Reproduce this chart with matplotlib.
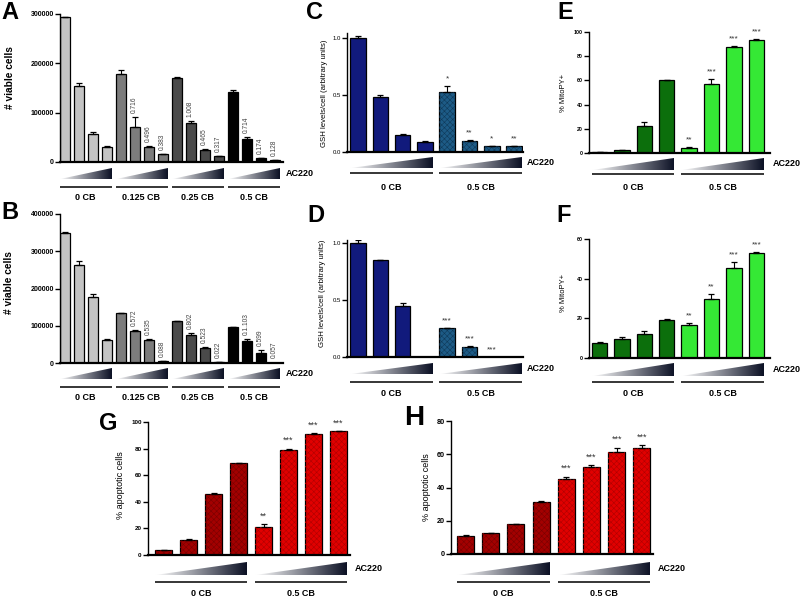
import numpy as np
import matplotlib
matplotlib.use("Agg")
import matplotlib.pyplot as plt
from matplotlib.colors import LinearSegmentedColormap
from matplotlib.patches import Polygon
from matplotlib.transforms import blended_transform_factory

plt.rcParams["font.family"] = ["Liberation Sans", "DejaVu Sans"]
plt.rcParams["hatch.linewidth"] = 0.4

# --------------------
# Data
# --------------------
groups_cb4 = ["0 CB", "0.125 CB", "0.25 CB", "0.5 CB"]
groups_cb2 = ["0 CB", "0.5 CB"]

# A: viable cells
a_vals = [293000, 155000, 57000, 31000, 178000, 71000, 30000, 16000,
          171000, 80000, 25000, 12000, 142000, 47000, 8000, 4000]
a_err = [1500, 6000, 3500, 1000, 8000, 20000, 1500, 800,
         1500, 3000, 1000, 800, 3500, 4000, 500, 400]
a_notes = ["", "", "", "", "", "0.716", "0.496", "0.383",
           "", "1.008", "0.465", "0.317", "", "0.714", "0.174", "0.128"]

# B: viable cells
b_vals = [348000, 263000, 176000, 62000, 133000, 86000, 61000, 5000,
          112000, 76000, 40000, 1500, 96000, 60000, 28000, 1000]
b_err = [3000, 10000, 10000, 2000, 2000, 3000, 3000, 500,
         1500, 4000, 3000, 300, 1000, 3500, 6000, 300]
b_notes = ["", "", "", "", "", "0.572", "0.535", "0.088",
           "", "0.802", "0.523", "0.022", "", "0.1.103", "0.599", "0.057"]

# C / D: GSH levels
c_vals = [1.0, 0.48, 0.15, 0.09, 0.53, 0.10, 0.05, 0.05]
c_err = [0.02, 0.02, 0.01, 0.003, 0.05, 0.008, 0.003, 0.003]
c_stars = ["", "", "", "", "*", "**", "*", "**"]

d_vals = [1.0, 0.85, 0.45, 0.0, 0.25, 0.09, 0.0, 0.0]
d_err = [0.025, 0.003, 0.02, 0.0, 0.005, 0.01, 0.0, 0.0]
d_stars = ["", "", "", "", "***", "***", "***", ""]

# E / F: % MitoPY+
e_vals = [1.0, 2.5, 22.0, 60.0, 4.5, 57.0, 88.0, 93.0]
e_err = [0.2, 0.3, 4.0, 0.5, 0.3, 4.0, 0.5, 1.0]
e_stars = ["", "", "", "", "**", "***", "***", "***"]

f_vals = [7.5, 9.5, 12.0, 19.0, 16.5, 30.0, 45.5, 53.0]
f_err = [0.5, 1.0, 1.5, 0.5, 1.0, 2.5, 3.0, 0.3]
f_stars = ["", "", "", "", "**", "**", "***", "***"]

# G / H: % apoptotic cells
g_vals = [3.5, 11.5, 46.0, 69.0, 21.0, 79.0, 91.0, 93.0]
g_err = [0.2, 0.6, 0.8, 0.3, 2.0, 1.0, 0.5, 0.3]
g_stars = ["", "", "", "", "**", "***", "***", "***"]

h_vals = [11.0, 12.5, 18.0, 31.0, 45.0, 52.5, 61.5, 63.5]
h_err = [0.3, 0.3, 0.3, 1.0, 1.5, 1.0, 2.5, 2.0]
h_stars = ["", "", "", "", "***", "***", "***", "***"]

# --------------------
# Figure setup (pixel based layout)
# --------------------
W, H = 800, 599
fig = plt.figure(figsize=(8, 5.99), dpi=100)

ramp_cmap = LinearSegmentedColormap.from_list("ramp", ["#ffffff", "#0b1024"])
grad = np.linspace(0, 1, 256).reshape(1, -1)


def px_rect(l, t, r, b):
    return [l / W, 1 - b / H, (r - l) / W, (b - t) / H]


def draw_panel(vals, errs, colors, groups, lay, notes, note_kind,
               hatch_colors=None):
    L, T, R, B = lay["box"]
    ax = fig.add_axes(px_rect(L, T, R, B))
    n = len(vals)
    x = np.arange(n)
    w = lay["bw"] / lay["pitch"]

    ax.bar(x, vals, width=w, color=colors, edgecolor="black",
           linewidth=0.9, zorder=2)
    if hatch_colors is not None:
        over = ax.bar(x, vals, width=w, color="none", linewidth=0, zorder=2.5)
        for p, hc in zip(over, hatch_colors):
            if hc:
                p.set_edgecolor(hc)
                p.set_hatch("xxxxxx")
    ax.errorbar(x, vals, yerr=[np.zeros(n), errs], fmt="none",
                ecolor="black", elinewidth=0.8, capsize=2.2,
                capthick=0.9, zorder=3)

    ax.set_ylim(*lay["ylim"])
    ax.set_yticks(lay["yticks"])
    ax.set_yticklabels(lay["yticklabels"], fontsize=lay["tick_size"],
                       fontweight=lay["tick_weight"])
    ax.set_xticks([])
    for s in ["top", "right"]:
        ax.spines[s].set_visible(False)
    ax.spines["left"].set_linewidth(1.0)
    ax.spines["bottom"].set_linewidth(1.6)
    ax.tick_params(axis="y", direction="out", length=3.5, width=1.0, pad=1)

    ax.set_ylabel(lay["ylabel"], fontsize=lay["ylabel_size"],
                  fontweight=lay["ylabel_weight"])
    lx, ly = lay["ylabel_xy"]
    ax.yaxis.set_label_coords((lx - L) / (R - L), (B - ly) / (B - T))

    # annotations above bars
    for i, s in enumerate(notes):
        if not s:
            continue
        if note_kind == "num":
            ax.annotate(s, (i, vals[i] + errs[i]), xytext=(0, 3),
                        textcoords="offset points", ha="center", va="bottom",
                        rotation=90, fontsize=4.8, color="#444444")
        else:
            ax.annotate(s, (i, vals[i] + errs[i]), xytext=(0, 2.5),
                        textcoords="offset points", ha="center", va="bottom",
                        fontsize=lay["star_size"], color="#333333")

    # ramp / group row underneath
    rt, rb, line_y, text_y = lay["row"]
    axr = fig.add_axes(px_rect(L, rt - 2, R, text_y + 8), sharex=ax)
    for gi, name in enumerate(groups):
        i0, i1 = gi * 4, gi * 4 + 3
        x0, x1 = i0 - w / 2, i1 + w / 2
        im = axr.imshow(grad, cmap=ramp_cmap, extent=[x0, x1, rb, rt],
                        aspect="auto", interpolation="bilinear")
        tri = Polygon([(x0, rb), (x1, rb), (x1, rt)], closed=True,
                      facecolor="none", edgecolor="none",
                      transform=axr.transData)
        axr.add_patch(tri)
        im.set_clip_path(tri)
        axr.plot([x0, x1], [line_y, line_y], color="#262626", lw=1.3,
                 solid_capstyle="butt")
        axr.text((i0 + i1) / 2, text_y, name, ha="center", va="center",
                 fontsize=6.5, fontweight="bold")
    trans = blended_transform_factory(axr.transAxes, axr.transData)
    axr.annotate("AC220", xy=(1.0, (rt + rb) / 2), xycoords=trans,
                 xytext=(lay["ac_dx"], 0), textcoords="offset pixels",
                 ha="left", va="center", fontsize=6.5, fontweight="bold")
    axr.set_ylim(text_y + 8, rt - 2)
    axr.axis("off")

    ax.set_xlim((L - lay["c0"]) / lay["pitch"], (R - lay["c0"]) / lay["pitch"])

    lx, ly, letter, lsize = lay["letter"]
    fig.text(lx / W, 1 - ly / H, letter, fontsize=lsize, fontweight="bold",
             ha="left", va="top")
    return ax


grey4 = ["#c4c4c4"] * 4 + ["#7c7c7c"] * 4 + ["#4a4a4a"] * 4 + ["#000000"] * 4

count_ticks = lambda top: [k * 100000 for k in range(top + 1)]

lay_a = dict(box=(60, 14, 283, 162), c0=64.5, pitch=14, bw=10,
             ylim=(0, 300000), yticks=count_ticks(3),
             yticklabels=[str(v) for v in count_ticks(3)],
             tick_size=5, tick_weight="bold",
             ylabel="# viable cells", ylabel_size=7.3, ylabel_weight="bold",
             ylabel_xy=(15, 78), row=(168, 179, 187, 197), ac_dx=3,
             letter=(1, 1, "A", 17), star_size=6)
lay_b = dict(lay_a, box=(60, 214, 283, 363), ylim=(0, 400000),
             yticks=count_ticks(4),
             yticklabels=[str(v) for v in count_ticks(4)],
             ylabel_xy=(14, 283), row=(368, 379, 387, 397),
             letter=(1, 201, "B", 17))

lay_c = dict(box=(347, 33, 523, 152), c0=358, pitch=22.3, bw=15.5,
             ylim=(0, 1.044), yticks=[0, 0.5, 1.0],
             yticklabels=["0.0", "0.5", "1.0"],
             tick_size=4.3, tick_weight="normal",
             ylabel="GSH levels/cell (arbitrary units)", ylabel_size=5.6,
             ylabel_weight="normal", ylabel_xy=(328, 93),
             row=(157, 168, 173, 187), ac_dx=4,
             letter=(306, 1, "C", 17), star_size=6)
lay_d = dict(lay_c, box=(347, 240, 523, 357), ylim=(0, 1.026),
             ylabel_xy=(326, 293), row=(363, 374, 382, 393),
             letter=(307, 204, "D", 17))

lay_e = dict(box=(589, 32, 770, 153), c0=599.5, pitch=22.4, bw=15.5,
             ylim=(0, 100), yticks=[0, 20, 40, 60, 80, 100],
             yticklabels=["0", "20", "40", "60", "80", "100"],
             tick_size=3.8, tick_weight="bold",
             ylabel="% MitoPY+", ylabel_size=5.5, ylabel_weight="normal",
             ylabel_xy=(567, 93), row=(158, 170, 174, 188), ac_dx=3,
             letter=(557, 1, "E", 17), star_size=6)
lay_f = dict(lay_e, box=(589, 239, 770, 358), ylim=(0, 60),
             yticks=[0, 20, 40, 60], yticklabels=["0", "20", "40", "60"],
             ylabel_xy=(567, 293), row=(363, 376, 382, 393),
             letter=(556, 204, "F", 17))

lay_g = dict(box=(148, 422, 350, 555), c0=163.5, pitch=25, bw=17,
             ylim=(0, 100), yticks=[0, 20, 40, 60, 80, 100],
             yticklabels=["0", "20", "40", "60", "80", "100"],
             tick_size=4.5, tick_weight="bold",
             ylabel="% apoptotic cells", ylabel_size=6.5,
             ylabel_weight="normal", ylabel_xy=(125, 485),
             row=(562, 575, 582, 594), ac_dx=5,
             letter=(99, 412, "G", 17), star_size=6.5)
lay_h = dict(lay_g, box=(451, 421, 653, 554), c0=465.5, pitch=25.2,
             ylim=(0, 80), yticks=[0, 20, 40, 60, 80],
             yticklabels=["0", "20", "40", "60", "80"], tick_size=5.2,
             ylabel_xy=(431, 487), letter=(404, 405, "H", 20))

navy_teal = ["#111a7c"] * 4 + ["#1d5b86"] * 4
teal_hatch = [None] * 4 + ["#0f3a5a"] * 4
greens = ["#0c6f0c"] * 4 + ["#35e835"] * 4
reds = ["#a30000"] * 4 + ["#e10000"] * 4
red_hatch = ["#7a0000"] * 4 + ["#b00000"] * 4

draw_panel(a_vals, a_err, grey4, groups_cb4, lay_a, a_notes, "num")
draw_panel(b_vals, b_err, grey4, groups_cb4, lay_b, b_notes, "num")
draw_panel(c_vals, c_err, navy_teal, groups_cb2, lay_c, c_stars, "star",
           teal_hatch)
draw_panel(d_vals, d_err, navy_teal, groups_cb2, lay_d, d_stars, "star",
           teal_hatch)
draw_panel(e_vals, e_err, greens, groups_cb2, lay_e, e_stars, "star")
draw_panel(f_vals, f_err, greens, groups_cb2, lay_f, f_stars, "star")
draw_panel(g_vals, g_err, reds, groups_cb2, lay_g, g_stars, "star", red_hatch)
draw_panel(h_vals, h_err, reds, groups_cb2, lay_h, h_stars, "star", red_hatch)

fig.savefig("out.png", dpi=100)
